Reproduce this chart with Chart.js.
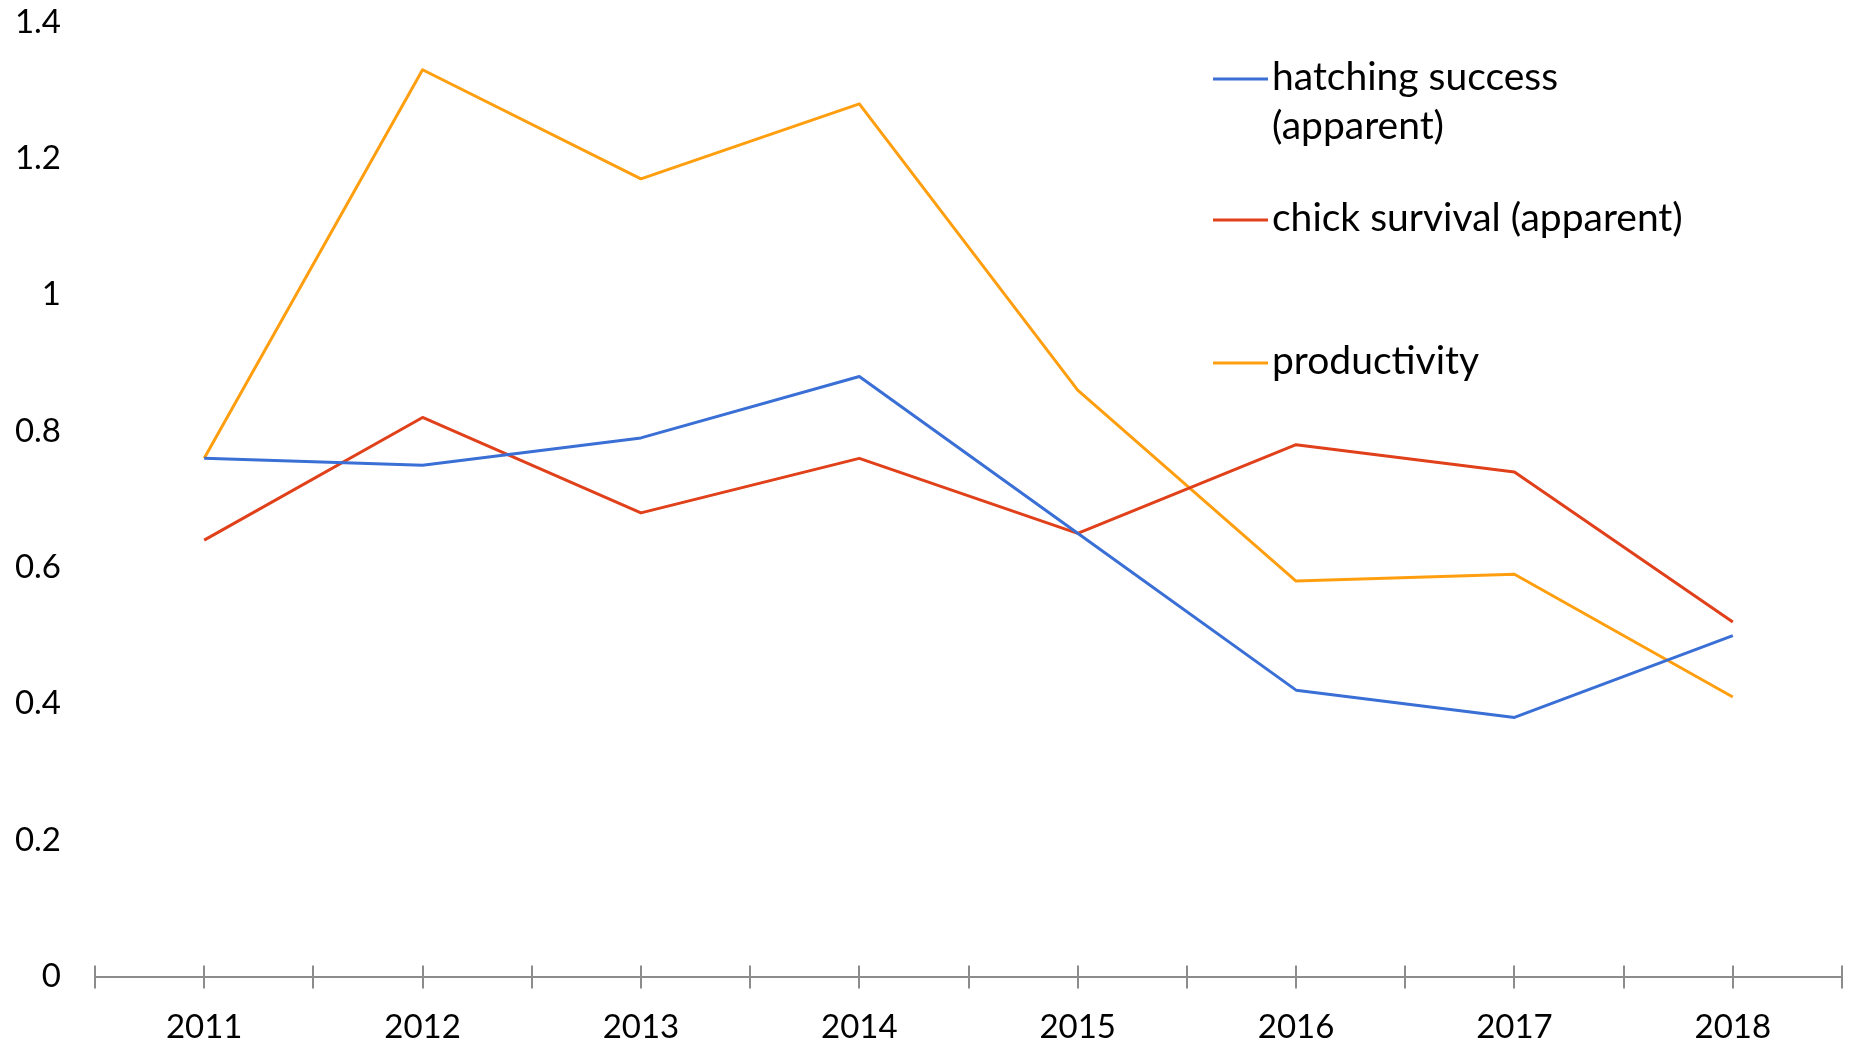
<!DOCTYPE html>
<html lang="en">
<head>
  <meta charset="UTF-8" />
  <title>Hatching success, chick survival and productivity</title>
  <script src="https://cdn.jsdelivr.net/npm/chart.js"></script>
  <style>
    html, body { margin: 0; padding: 0; background: #fff; }
    #wrap { width: 1856px; height: 1044px; position: relative; }
  </style>
</head>
<body>
  <div id="wrap"><canvas id="lineChart"></canvas></div>

  <script>
    // data
    const years = ['2011', '2012', '2013', '2014', '2015', '2016', '2017', '2018'];
    const hatching = [0.76, 0.75, 0.79, 0.88, 0.65, 0.42, 0.38, 0.50];
    const chickSurvival = [0.64, 0.82, 0.68, 0.76, 0.65, 0.78, 0.74, 0.52];
    const productivity = [0.76, 1.33, 1.17, 1.28, 0.86, 0.58, 0.59, 0.41];
    const yTicks = [0, 0.2, 0.4, 0.6, 0.8, 1, 1.2, 1.4];

    // legend text, wrapped like the original
    const legendText = [
      ['hatching success', '(apparent)'],
      ['chick survival (apparent)'],
      ['productivity']
    ];

    const FONT = 'Lato, "Open Sans", sans-serif';

    // legend drawn over the plot, top right
    const sideLegend = {
      id: 'sideLegend',
      afterDraw(chart) {
        const ctx = chart.ctx;
        const rowsY = [79, 220, 363];
        ctx.save();
        ctx.font = '39px ' + FONT;
        ctx.textBaseline = 'middle';
        ctx.textAlign = 'left';
        chart.data.datasets.forEach((ds, i) => {
          const y = rowsY[i];
          ctx.strokeStyle = ds.borderColor;
          ctx.lineWidth = 3;
          ctx.beginPath();
          ctx.moveTo(1213, y);
          ctx.lineTo(1268, y);
          ctx.stroke();
          ctx.fillStyle = '#000';
          legendText[i].forEach((t, j) => ctx.fillText(t, 1272, y - 2 + j * 49));
        });
        ctx.restore();
      }
    };

    // axis ticks that cross the x axis line, at boundaries and centres
    const crossTicks = {
      id: 'crossTicks',
      afterDraw(chart) {
        const x = chart.scales.x;
        const ctx = chart.ctx;
        const yAxis = chart.chartArea.bottom;
        const pos = [chart.chartArea.left];
        for (let i = 0; i < years.length; i++) {
          const c = x.getPixelForValue(i);
          pos.push(c);
          pos.push(i < years.length - 1 ? (c + x.getPixelForValue(i + 1)) / 2 : chart.chartArea.right);
        }
        ctx.save();
        ctx.strokeStyle = '#8c8c8c';
        ctx.lineWidth = 2;
        pos.forEach(p => {
          ctx.beginPath();
          ctx.moveTo(Math.round(p), yAxis - 11);
          ctx.lineTo(Math.round(p), yAxis + 12);
          ctx.stroke();
        });
        ctx.restore();
      }
    };

    new Chart(document.getElementById('lineChart'), {
      type: 'line',
      data: {
        labels: years,
        datasets: [
          { label: 'hatching success (apparent)', data: hatching, borderColor: '#3a6fd5' },
          { label: 'chick survival (apparent)', data: chickSurvival, borderColor: '#e0401a' },
          { label: 'productivity', data: productivity, borderColor: '#ff9f10' }
        ]
      },
      options: {
        responsive: true,
        maintainAspectRatio: false,
        animation: false,
        layout: { padding: { top: 22, right: 14, left: 0, bottom: 0 } },
        elements: {
          line: { borderWidth: 3, tension: 0, fill: false, borderJoinStyle: 'round' },
          point: { radius: 0, hoverRadius: 0 }
        },
        plugins: {
          legend: { display: false },
          tooltip: { enabled: false },
          title: { display: false }
        },
        scales: {
          x: {
            offset: true,
            grid: { display: false, drawTicks: false },
            border: { display: true, color: '#8c8c8c', width: 2 },
            ticks: { color: '#000', font: { family: FONT, size: 33 }, padding: 31, maxRotation: 0 },
            afterFit(s) { s.height = 67.5; s.paddingLeft = 0; s.paddingRight = 0; }
          },
          y: {
            min: 0,
            max: 1.4,
            afterBuildTicks(s) { s.ticks = yTicks.map(v => ({ value: v })); },
            grid: { display: false, drawTicks: false },
            border: { display: false },
            ticks: { color: '#000', font: { family: FONT, size: 33 }, padding: 34, callback: v => String(v) },
            afterFit(s) { s.width = 95; s.paddingTop = 0; s.paddingBottom = 0; }
          }
        }
      },
      plugins: [crossTicks, sideLegend]
    });
  </script>
</body>
</html>
